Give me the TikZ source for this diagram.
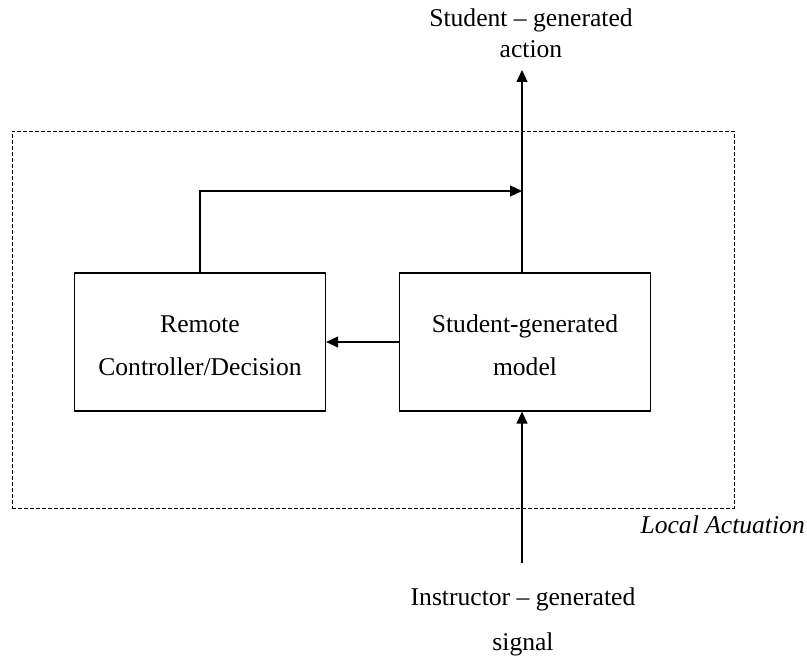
\documentclass[tikz,border=0pt]{standalone}
\usepackage{fontspec}
\setmainfont{Liberation Serif}
\usetikzlibrary{arrows.meta}
\begin{document}
\begin{tikzpicture}[x=1pt,y=-1pt,
  txt/.style={font=\fontsize{25.6}{31}\selectfont, align=center, inner sep=0pt, anchor=base},
  blktxt/.style={txt, font=\fontsize{25.6}{43}\selectfont},
  blk/.style={draw, line width=1.2pt, minimum width=251pt, minimum height=138pt, inner sep=0pt},
  frame/.style={draw, line width=0.9pt, dash pattern=on 4pt off 2pt,
    minimum width=722pt, minimum height=377pt, inner sep=0pt},
  arr/.style={-{Triangle[length=12pt,width=11pt]}, line width=1.2pt}]
\useasboundingbox (0,0) rectangle (807,658);

% outer dashed frame
\node[frame] (local) at (373,319.5) {};
\node[font=\fontsize{25.6}{31}\selectfont\itshape, anchor=base east, inner sep=0pt]
  (locallbl) at (805,533) {Local Actuation};

% blocks
\node[blk] (ctrl) at (200,342) {};
\node[blktxt] (ctrltxt) at (ctrl.center |- 0,375) {Remote\\Controller/Decision};
\node[blk] (model) at (525,342) {};
\node[blktxt] (modeltxt) at (model.center |- 0,375) {Student-generated\\model};

% external signals
\coordinate (top) at (522,70);
\coordinate (join) at (522,191);
\coordinate (src) at (522,563);
\node[txt] (action) at (531,58) {Student -- generated\\action};
\node[txt, font=\fontsize{25.6}{45}\selectfont] (signal) at (523,650)
  {Instructor -- generated\\signal};

% connectors
\draw[arr] (model.north -| top) -- (top);
\draw[arr] (ctrl.north) |- (join);
\draw[arr] (model.west) -- (ctrl.east);
\draw[arr] (src) -- (model.south -| src);
\end{tikzpicture}
\end{document}
